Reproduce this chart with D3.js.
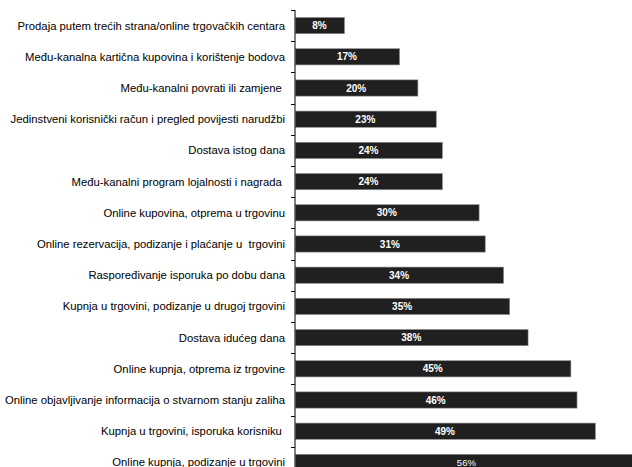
<!DOCTYPE html>
<html>
<head>
<meta charset="utf-8">
<script src="https://cdn.jsdelivr.net/npm/d3@7/dist/d3.min.js"></script>
<style>
  html, body { margin: 0; padding: 0; background: #fff; }
  svg { display: block; }
  text { white-space: pre; }
</style>
</head>
<body>
<script>
const categories = [
  "Prodaja putem trećih strana/online trgovačkih centara",
  "Među-kanalna kartična kupovina i korištenje bodova",
  "Među-kanalni povrati ili zamjene ",
  "Jedinstveni korisnički račun i pregled povijesti narudžbi",
  "Dostava istog dana",
  "Među-kanalni program lojalnosti i nagrada ",
  "Online kupovina, otprema u trgovinu",
  "Online rezervacija, podizanje i plaćanje u  trgovini",
  "Raspoređivanje isporuka po dobu dana",
  "Kupnja u trgovini, podizanje u drugoj trgovini",
  "Dostava idućeg dana",
  "Online kupnja, otprema iz trgovine",
  "Online objavljivanje informacija o stvarnom stanju zaliha",
  "Kupnja u trgovini, isporuka korisniku ",
  "Online kupnja, podizanje u trgovini"
];
const values = [8, 17, 20, 23, 24, 24, 30, 31, 34, 35, 38, 45, 46, 49, 56];
const valueLabels = values.map(v => v + "%");

const W = 632, H = 467;
const svg = d3.select("body").append("svg").attr("width", W).attr("height", H);

const axisX = 295;
const x = d3.scaleLinear().domain([0, 100]).range([axisX, axisX + 612]);
const y = d3.scaleBand().domain(categories).range([10, 478]).paddingInner(0.48).paddingOuter(0.24);

// bars
svg.append("g").selectAll("rect").data(values).join("rect")
  .attr("x", x(0) + 0.5)
  .attr("y", (d, i) => y(categories[i]))
  .attr("width", d => x(d) - x(0))
  .attr("height", y.bandwidth())
  .attr("fill", "#202020")
  .attr("stroke", "#8c8c8c")
  .attr("stroke-width", 0.6);

// value labels
svg.append("g").selectAll("text").data(values).join("text")
  .attr("x", d => (x(0) + x(d)) / 2)
  .attr("y", (d, i) => y(categories[i]) + y.bandwidth() / 2)
  .attr("dy", "0.35em")
  .attr("text-anchor", "middle")
  .attr("fill", "#fff")
  .attr("font-family", "Liberation Sans, Arial, sans-serif")
  .attr("font-size", (d, i) => i === values.length - 1 ? 9.5 : 10)
  .attr("font-weight", (d, i) => i === values.length - 1 ? "normal" : "bold")
  .text((d, i) => valueLabels[i]);

// category axis
const axisG = svg.append("g");
axisG.append("line")
  .attr("x1", axisX).attr("x2", axisX)
  .attr("y1", y.range()[0]).attr("y2", H)
  .attr("stroke", "#000").attr("stroke-width", 1);
const step = y.step();
const bounds = d3.range(categories.length + 1).map(i => y.range()[0] + i * step);
axisG.selectAll("line.tick").data(bounds).join("line")
  .attr("class", "tick")
  .attr("x1", axisX - 4).attr("x2", axisX)
  .attr("y1", d => Math.round(d) + 0.5).attr("y2", d => Math.round(d) + 0.5)
  .attr("stroke", "#000").attr("stroke-width", 1);

axisG.selectAll("text").data(categories).join("text")
  .attr("x", 285)
  .attr("y", d => y(d) + y.bandwidth() / 2)
  .attr("dy", "0.35em")
  .attr("text-anchor", "end")
  .attr("fill", "#000")
  .attr("font-family", "Liberation Sans, Arial, sans-serif")
  .attr("font-size", 11.3)
  .text(d => d);
</script>
</body>
</html>
